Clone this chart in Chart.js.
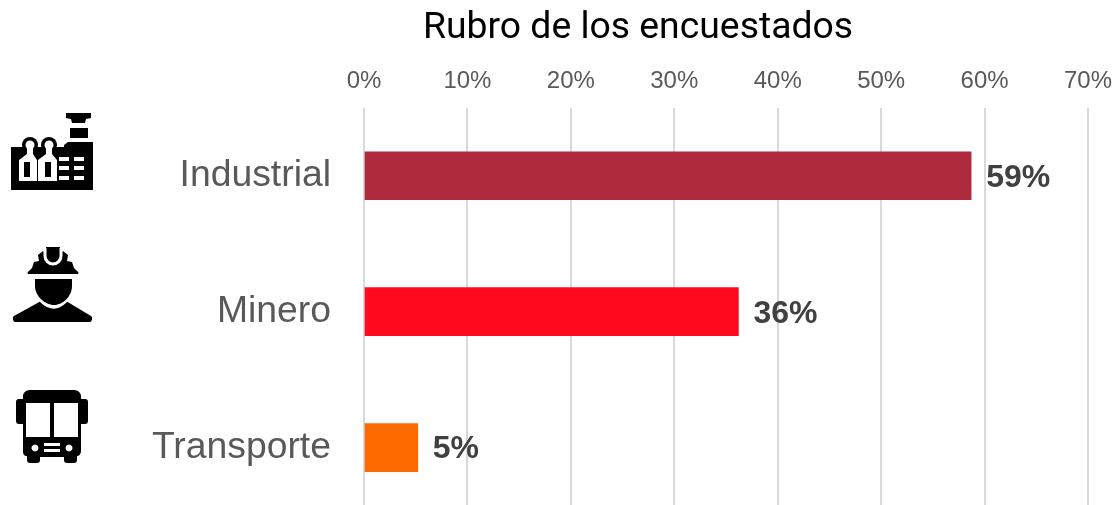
<!DOCTYPE html>
<html><head><meta charset="utf-8">
<style>
html,body{margin:0;padding:0;background:#fff;overflow:hidden}
#wrap{position:relative;width:1114px;height:505px;overflow:hidden}
canvas{position:absolute;left:0;top:0}
svg{position:absolute}
</style>
<script src="https://cdn.jsdelivr.net/npm/chart.js@4"></script>
</head><body>
<div id="wrap">
<canvas id="c" width="1114" height="563" style="width:1114px;height:563px"></canvas>
<svg style="left:0;top:100px" width="110" height="110" viewBox="0 0 110 110">
 <path fill="#000" d="M66 13h25v5l-5 1-1 4H72l-1-4-5-1zM70 28h18v10H70z"/>
 <path fill="#000" d="M11 47h53v-2l4-3h25v48H11z"/>
 <circle cx="30" cy="45" r="8" fill="#000"/><circle cx="49" cy="45" r="8" fill="#000"/>
 <circle cx="30" cy="45" r="4.500" fill="#fff"/><circle cx="49" cy="45" r="4.500" fill="#fff"/>
 <path fill="#fff" fill-rule="evenodd" d="M27 46h6v8l4 6v21H19V60l8-6zM24 62v15h6V62zM46 46h6v8l5 6v21H38V60l8-6zM45 62v15h6V62z"/>
 <path fill="#fff" d="M59 57h10v4H59zM74 57h10v4H74zM59 66h10v4H59zM74 66h10v4H74zM59 76h10v4H59zM74 76h10v4H74z"/>
</svg>
<svg style="left:0;top:235px" width="110" height="100" viewBox="0 0 110 100">
 <path fill="#000" d="M29 39c-2 0-2-2 0-3l3-3 2-6 5-1-1-6 5-4 3 3v-7h14v7l3-3 5 4-1 6 5 1 2 6 3 3c2 1 2 3 0 3z"/>
 <path fill="none" stroke="#fff" stroke-width="3" d="M45 13v8a8 8 0 0 0 16 0v-8"/>
 <path fill="#000" d="M35 44h37v7c0 10-9 19-18 19s-19-9-19-19z"/>
 <path fill="#000" d="M41 66c3 4 8 7 13 7s9-3 12-7l25 15c2 1 1 6-1 6H15c-2 0-3-5-1-6z"/>
 <path fill="none" stroke="#fff" stroke-width="1.500" d="M40 66c4 4 9 7 14 7s9-3 13-7"/>
</svg>
<svg style="left:0;top:380px" width="110" height="95" viewBox="0 0 110 95">
 <path fill="#000" d="M16 22c0-2 1-3 3-3h4v25h-4c-2 0-3-1-3-3zM88 22c0-2-1-3-3-3h-4v25h4c2 0 3-1 3-3z"/>
 <path fill="#000" fill-rule="evenodd" d="M30 10h44c4 0 7 3 7 6v55c0 3-2 5-4 5v4c0 2-1 3-3 3h-7c-2 0-3-1-3-3v-3H40v3c0 2-1 3-3 3h-7c-2 0-3-1-3-3v-4c-3 0-4-2-4-5V16c0-3 3-6 7-6zM26 23v34h24V23zM54 23v34h24V23zM35 64.500a3.500 3.500 0 1 0 .01 0zM69 64.500a3.500 3.500 0 1 0 .01 0zM44 63v3h16v-3zM44 69v3h16v-3z"/>
</svg>
</div>
<script>
const categories = ["Industrial", "Minero", "Transporte"];
const values = [58.7, 36.2, 5.2];
const valueLabels = ["59%", "36%", "5%"];
const barColors = ["#AF2A3C", "#FF0A1E", "#FF6A00"];
const chartTitle = "Rubro de los encuestados";

const dataLabels = {
  id: "dataLabels",
  afterLayout(chart) { chart.titleBlock.left = 162; },
  afterDatasetsDraw(chart) {
    const { ctx } = chart;
    const meta = chart.getDatasetMeta(0);
    ctx.save();
    ctx.font = "bold 32px 'Liberation Sans'";
    ctx.fillStyle = "#404040";
    ctx.textBaseline = "middle";
    meta.data.forEach((el, i) => ctx.fillText(valueLabels[i], el.x + 15, el.y + 2));
    ctx.restore();
  }
};

new Chart(document.getElementById("c"), {
  type: "bar",
  data: { labels: categories, datasets: [{ data: values, backgroundColor: barColors, barThickness: 48, borderWidth: 0 }] },
  plugins: [dataLabels],
  options: {
    indexAxis: "y",
    responsive: false,
    animation: false,
    layout: { padding: 0 },
    plugins: {
      legend: { display: false },
      tooltip: { enabled: false },
      title: { display: true, text: chartTitle, color: "#000", font: { family: "Roboto", size: 37.33, weight: "normal" }, padding: { top: 6, bottom: 5 } }
    },
    scales: {
      x: {
        position: "top", min: 0, max: 70,
        afterFit(s) { s.height = 52; s.paddingRight = 26; s.paddingLeft = 0; },
        ticks: { stepSize: 10, maxRotation: 0, padding: 12, color: "#595959", font: { family: "'Liberation Sans'", size: 24 }, callback: v => v + "%" },
        grid: { color: "#D9D9D9", lineWidth: 2, drawTicks: false },
        border: { display: false }
      },
      y: {
        afterFit(s) { s.width = 364; },
        ticks: { padding: 25, color: "#595959", font: { family: "'Liberation Sans'", size: 37.33 } },
        grid: { display: false },
        border: { display: false }
      }
    }
  }
});
</script>
</body></html>
